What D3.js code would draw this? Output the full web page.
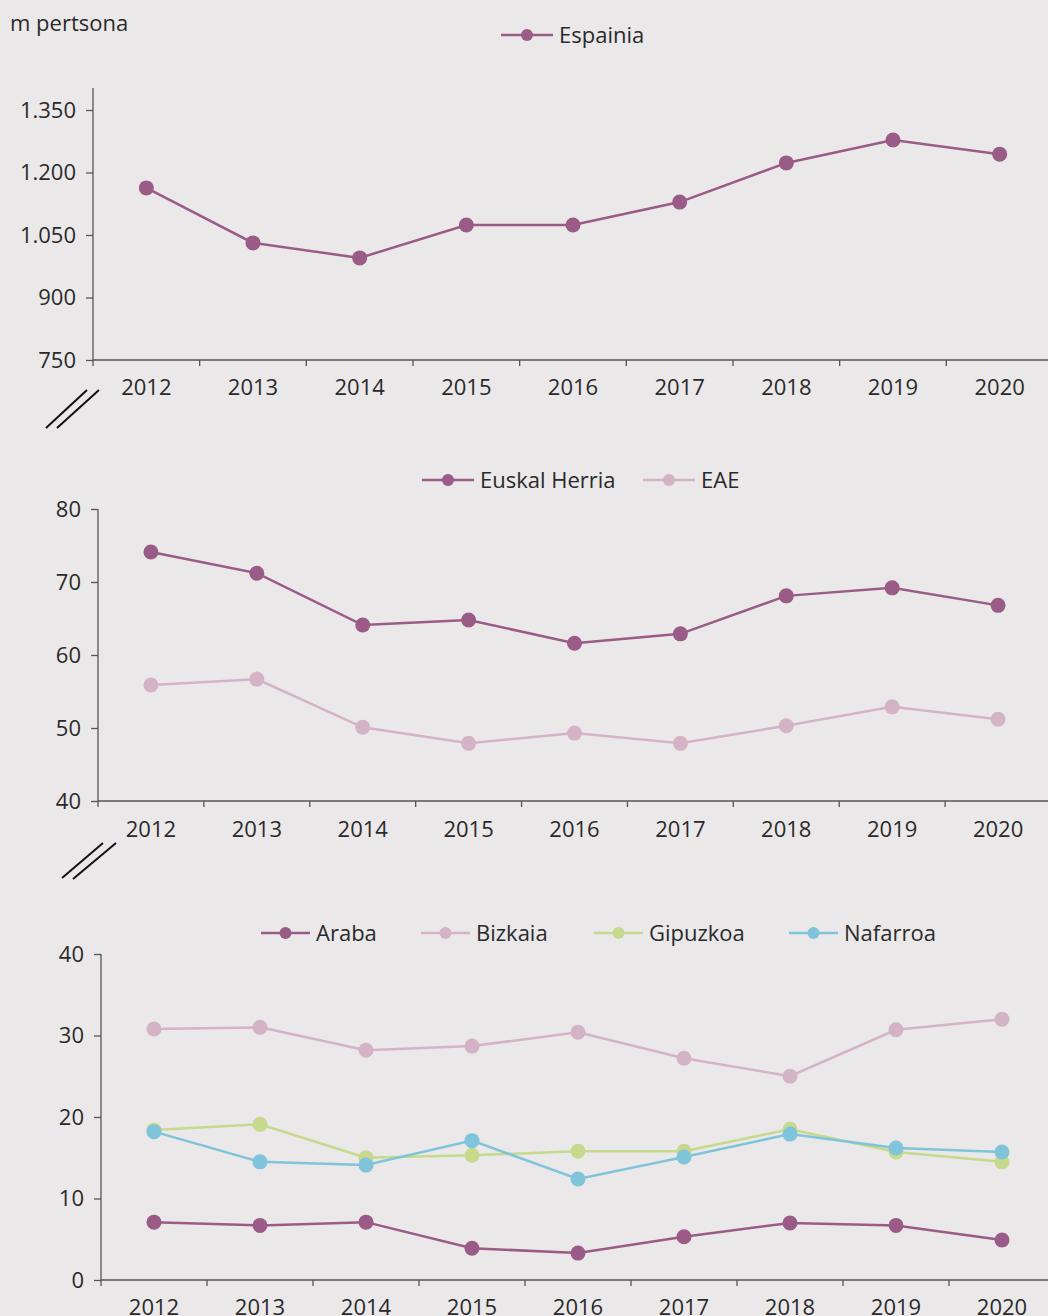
<!DOCTYPE html>
<html><head><meta charset="utf-8">
<script src="https://cdn.jsdelivr.net/npm/d3@7"></script>
<style>
html,body{margin:0;padding:0;background:#ebe8e9;}
svg{display:block;font-family:"Open Sans",sans-serif;}
</style></head>
<body>
<svg id="c" width="1048" height="1316"></svg>
<script>
const years = ["2012","2013","2014","2015","2016","2017","2018","2019","2020"];
const espainia = [1163,1031,995,1074,1074,1129,1223,1278,1244];
const euskalHerria = [74.1,71.2,64.1,64.8,61.6,62.9,68.1,69.2,66.8];
const eae = [55.9,56.7,50.1,47.9,49.3,47.9,50.3,52.9,51.2];
const araba = [7.1,6.7,7.1,3.9,3.3,5.3,7.0,6.7,4.9];
const bizkaia = [30.8,31.0,28.2,28.7,30.4,27.2,25.0,30.7,32.0];
const gipuzkoa = [18.4,19.1,15.0,15.3,15.8,15.8,18.5,15.7,14.5];
const nafarroa = [18.2,14.5,14.1,17.1,12.4,15.1,17.9,16.2,15.7];
const ticks1 = [750,900,1050,1200,1350];
const ticks2 = [40,50,60,70,80];
const ticks3 = [0,10,20,30,40];
const unitLabel = "m pertsona";

const C = {purple:"#9a5b86", pink:"#d5b3c6", green:"#c6d98c", blue:"#7fc4da"};
const FS = 22, TXT = "#2a2a2a";
const svg = d3.select("#c");
const fmt = v => d3.format(",")(v).replace(/,/g,".");

svg.append("text").attr("x",10).attr("y",31).attr("font-size",FS).attr("fill",TXT).text(unitLabel);

function panel(o){
  const x = d3.scaleBand().domain(years).range([o.x0, o.x1]);
  const y = d3.scaleLinear().domain(o.domain).range([o.yb, o.yt]);
  const g = svg.append("g");
  const ya = g.append("g").attr("transform",`translate(${o.x0},0)`)
    .call(d3.axisLeft(y).tickValues(o.ticks).tickFormat(fmt).tickSize(7).tickPadding(10));
  ya.select(".domain").attr("d",`M0,${y(o.domain[1]) - (o.ext||0)}V${o.yb}`);
  const xa = g.append("g").attr("transform",`translate(0,${o.yb})`)
    .call(d3.axisBottom(x).tickSize(0).tickPadding(o.xpad||19));
  xa.select(".domain").attr("d",`M${o.x0},0H${o.x1}`);
  xa.selectAll(".bnd").data(years).join("line").attr("class","bnd")
    .attr("x1",d=>x(d)).attr("x2",d=>x(d)).attr("y1",0).attr("y2",6)
    .attr("stroke","#555").attr("stroke-width",1.3);
  [ya,xa].forEach(a=>{
    a.selectAll(".domain").attr("stroke","#555").attr("stroke-width",1.3);
    a.selectAll(".tick line").attr("stroke","#555").attr("stroke-width",1.3);
    a.selectAll("text").attr("font-size",FS).attr("fill",TXT).attr("font-family","'Open Sans',sans-serif");
  });
  const line = d3.line().x((d,i)=>x(years[i])+x.bandwidth()/2).y(d=>y(d));
  o.series.forEach(s=>{
    g.append("path").attr("d",line(s.values)).attr("fill","none").attr("stroke",s.color).attr("stroke-width",2.5);
  });
  o.series.forEach(s=>{
    g.selectAll(null).data(s.values).join("circle")
      .attr("cx",(d,i)=>x(years[i])+x.bandwidth()/2).attr("cy",d=>y(d)).attr("r",7.5).attr("fill",s.color);
  });
  o.series.forEach((s,i)=>{
    const lx = o.legend[i], ly = o.ly;
    g.append("line").attr("x1",lx).attr("x2",lx+o.llen).attr("y1",ly).attr("y2",ly).attr("stroke",s.color).attr("stroke-width",2.5);
    g.append("circle").attr("cx",lx+o.llen/2).attr("cy",ly).attr("r",6).attr("fill",s.color);
    g.append("text").attr("x",lx+o.llen+6).attr("y",ly+8).attr("font-size",FS).attr("fill",TXT).text(s.name);
  });
  if(o.brk){
    o.brk.forEach(b=>{
      g.append("line").attr("x1",b[0]).attr("y1",b[1]).attr("x2",b[2]).attr("y2",b[3]).attr("stroke","#111").attr("stroke-width",2);
    });
  }
}

panel({x0:93,x1:1053,yt:110,yb:360,domain:[750,1350],ext:22,ticks:ticks1,xpad:19,
  series:[{name:"Espainia",values:espainia,color:C.purple}],
  legend:[501],llen:52,ly:35,
  brk:[[46,428,87,390],[57,428,99,390]]});

panel({x0:98,x1:1051,yt:509,yb:801,domain:[40,80],ticks:ticks2,xpad:20,
  series:[{name:"Euskal Herria",values:euskalHerria,color:C.purple},{name:"EAE",values:eae,color:C.pink}],
  legend:[422,643],llen:52,ly:480,
  brk:[[62,878,103,843],[73,879,116,843]]});

panel({x0:101,x1:1055,yt:954,yb:1280,domain:[0,40],ticks:ticks3,xpad:19,
  series:[{name:"Araba",values:araba,color:C.purple},{name:"Bizkaia",values:bizkaia,color:C.pink},
          {name:"Gipuzkoa",values:gipuzkoa,color:C.green},{name:"Nafarroa",values:nafarroa,color:C.blue}],
  legend:[261,421,594,789],llen:49,ly:933});
</script>
</body></html>
